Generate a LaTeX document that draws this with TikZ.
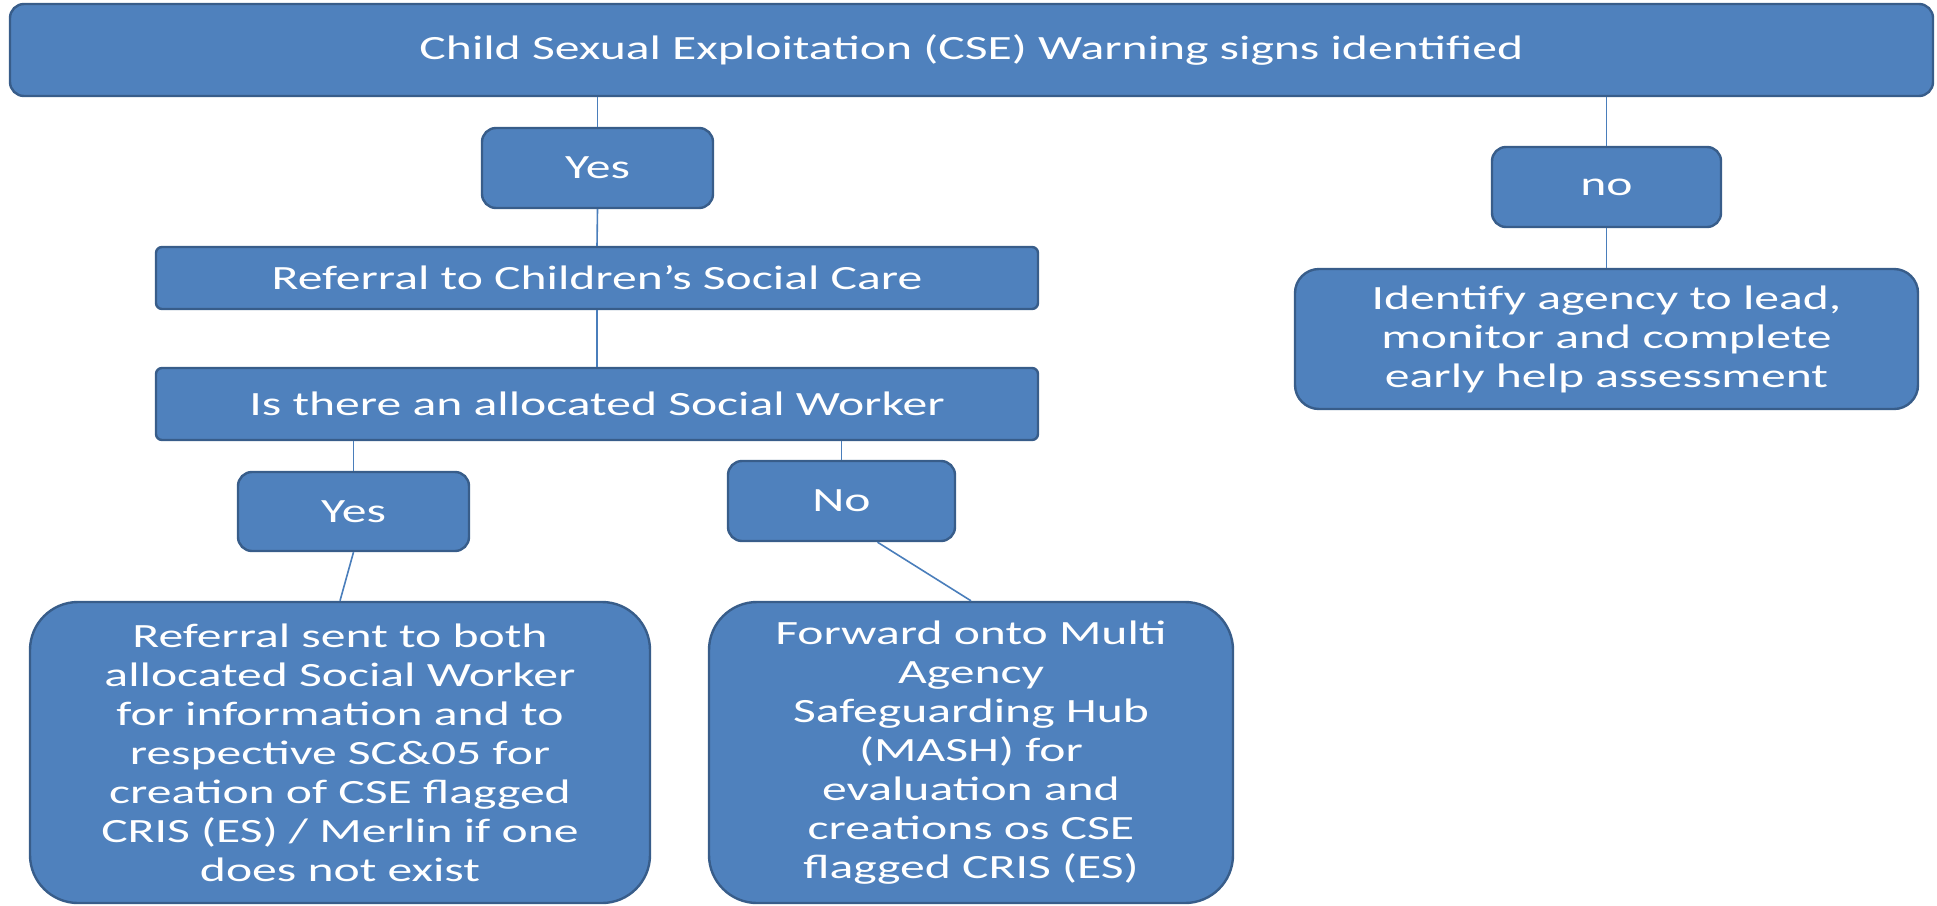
\documentclass[tikz,border=0pt]{standalone}
\usepackage{fontspec}
\setmainfont{Carlito}[FakeStretch=1.46]
\usetikzlibrary{positioning}
\definecolor{boxblue}{HTML}{4F81BD}
\definecolor{boxedge}{HTML}{385D8A}
\definecolor{linkblue}{HTML}{4A7EBB}

\tikzset{
  box/.style={draw=boxedge, line width=1.2pt, fill=boxblue, text=white,
              rounded corners=7pt, align=center, inner sep=0pt,
              font=\fontsize{17}{19.5}\selectfont},
  bigbox/.style={box, rounded corners=24pt},
  link/.style={draw=linkblue, line width=0.8pt}
}

\begin{document}
\begin{tikzpicture}[x=0.5pt, y=-0.5pt]
            \useasboundingbox (0,0) rectangle (1937,905);
            \node[box, minimum width=961.5pt, minimum height=46pt](cse) at (971.5,50)
                {Child Sexual Exploitation (CSE) Warning signs identified};
            \node[box, minimum width=115.5pt, minimum height=40pt](yesA) at (597.5,168) {Yes};
            \node[box, rounded corners=3pt, minimum width=441pt, minimum height=31pt](csc) at (597,278)
                {Referral to Children's Social Care};
            \node[box, rounded corners=3pt, minimum width=441pt, minimum height=36pt](sw) at (597,404)
                {Is there an allocated Social Worker};
            \node[box, minimum width=115.5pt, minimum height=39.5pt](yesB) at (353.5,511.5) {Yes};
            \node[box, minimum width=113.5pt, minimum height=40pt](noB) at (841.5,501) {No};
            \node[bigbox, minimum width=310pt, minimum height=150.5pt](sent) at (340,752.5)
                {Referral sent to both\\allocated Social Worker\\for information and to\\respective SC\&05 for\\creation of CSE flagged\\CRIS (ES) / Merlin if one\\does not exist};
            \node[bigbox, minimum width=262pt, minimum height=150.5pt](mash) at (971,752.5)
                {Forward onto Multi\\Agency\\Safeguarding Hub\\(MASH) for\\evaluation and\\creations os CSE\\flagged CRIS (ES)};
            \node[box, minimum width=114.5pt, minimum height=40pt](noA) at (1606.5,187) {no};
            \node[box, rounded corners=12pt, minimum width=311.5pt, minimum height=70pt](lead) at (1606.5,339)
                {Identify agency to lead,\\monitor and complete\\early help assessment};

            % connectors
            \path[link]
                (yesA.north) edge (yesA.north |- cse.south)
                (yesA.south) edge (csc.north)
                (csc.south)  edge (sw.north)
                (yesB.north) edge (yesB.north |- sw.south)
                (noB.north)  edge (noB.north |- sw.south)
                (yesB.south) edge (sent.north)
                ([xshift=18pt]noB.south) edge (mash.north)
                (noA.north)  edge (noA.north |- cse.south)
                (noA.south)  edge (lead.north)
                ;
        \end{tikzpicture}
\end{document}
